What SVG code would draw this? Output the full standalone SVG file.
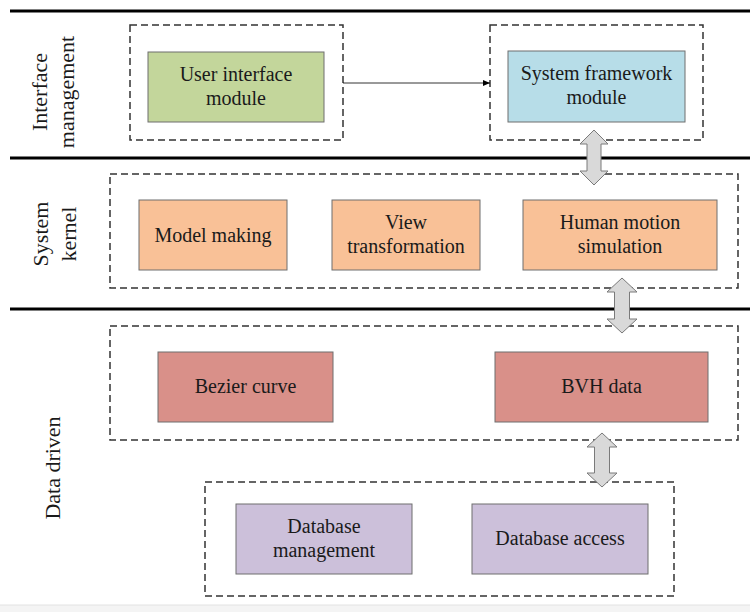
<svg xmlns="http://www.w3.org/2000/svg" width="750" height="612" viewBox="0 0 750 612">
  <style>
    text { font-family: "Liberation Serif", "Times New Roman", Times, serif; fill: #1a1a1a; text-anchor: middle; }
    .t { font-size: 20px; }
    .side { font-size: 22px; }
    .dash { fill: none; stroke: #333; stroke-width: 1.5; stroke-dasharray: 7 4; }
    .box { stroke: #6f6f6f; stroke-width: 1; }
    .sep { stroke: #000; stroke-width: 3; }
    .dbl { fill: #d9d9d9; stroke: #7a7a7a; stroke-width: 1; }
  </style>
  <defs>
    <marker id="ah" markerWidth="8" markerHeight="8" refX="7" refY="4" orient="auto" markerUnits="userSpaceOnUse">
      <path d="M0,1 L7,4 L0,7 Z" fill="#000"/>
    </marker>
  </defs>
  <rect x="0" y="0" width="750" height="612" fill="#fff"/>
  <rect x="0" y="605" width="750" height="7" fill="#f4f4f4"/>
  <line x1="0" y1="605" x2="750" y2="605" stroke="#e2e2e2" stroke-width="1"/>

  <g id="separators">
    <line class="sep" x1="10" y1="11" x2="750" y2="11"/>
    <line class="sep" x1="10" y1="158" x2="750" y2="158"/>
    <line class="sep" x1="10" y1="309" x2="750" y2="309"/>
  </g>

  <g id="side-labels" font-family="Liberation Serif, serif">
    <text class="side" transform="translate(47,92) rotate(-90)">Interface</text>
    <text class="side" transform="translate(74,92) rotate(-90)">management</text>
    <text class="side" transform="translate(48,234) rotate(-90)">System</text>
    <text class="side" transform="translate(76,234) rotate(-90)">kernel</text>
    <text class="side" transform="translate(60,468) rotate(-90)">Data driven</text>
  </g>

  <g id="groups">
    <rect class="dash" x="130" y="25" width="213" height="115"/>
    <rect class="dash" x="490" y="25" width="213" height="115"/>
    <rect class="dash" x="110" y="174" width="628" height="114"/>
    <rect class="dash" x="110" y="326" width="628" height="114"/>
    <rect class="dash" x="205" y="482" width="469" height="114"/>
  </g>

  <g id="user-interface-module">
    <rect class="box" x="148" y="52" width="176" height="70" fill="#c3d69b"/>
    <text class="t" x="236" y="81">User interface</text>
    <text class="t" x="236" y="105">module</text>
  </g>
  <g id="system-framework-module">
    <rect class="box" x="508" y="51" width="177" height="71" fill="#b7dde8"/>
    <text class="t" x="596.5" y="80">System framework</text>
    <text class="t" x="596.5" y="104">module</text>
  </g>
  <g id="model-making">
    <rect class="box" x="139" y="200" width="148" height="70" fill="#f9c197"/>
    <text class="t" x="213" y="242">Model making</text>
  </g>
  <g id="view-transformation">
    <rect class="box" x="332" y="200" width="148" height="70" fill="#f9c197"/>
    <text class="t" x="406" y="229">View</text>
    <text class="t" x="406" y="253">transformation</text>
  </g>
  <g id="human-motion-simulation">
    <rect class="box" x="523" y="200" width="194" height="70" fill="#f9c197"/>
    <text class="t" x="620" y="229">Human motion</text>
    <text class="t" x="620" y="253">simulation</text>
  </g>
  <g id="bezier-curve">
    <rect class="box" x="158" y="352" width="175" height="70" fill="#d99089"/>
    <text class="t" x="245.5" y="393">Bezier curve</text>
  </g>
  <g id="bvh-data">
    <rect class="box" x="495" y="352" width="213" height="70" fill="#d99089"/>
    <text class="t" x="601.5" y="393">BVH data</text>
  </g>
  <g id="database-management">
    <rect class="box" x="236" y="504" width="176" height="70" fill="#ccc0da"/>
    <text class="t" x="324" y="533">Database</text>
    <text class="t" x="324" y="557">management</text>
  </g>
  <g id="database-access">
    <rect class="box" x="472" y="504" width="176" height="70" fill="#ccc0da"/>
    <text class="t" x="560" y="545">Database access</text>
  </g>

  <g id="connectors">
    <line x1="343" y1="83" x2="490" y2="83" stroke="#000" stroke-width="0.8" marker-end="url(#ah)"/>
    <polygon class="dbl" points="594,130 608,144 601,144 601,171 608,171 594,185 580,171 587,171 587,144 580,144"/>
    <polygon class="dbl" points="622,278 637,292 629.5,292 629.5,319 637,319 622,333 607,319 614.5,319 614.5,292 607,292"/>
    <polygon class="dbl" points="602,433 617,447 609.5,447 609.5,473 617,473 602,487 587,473 594.5,473 594.5,447 587,447"/>
  </g>
</svg>
